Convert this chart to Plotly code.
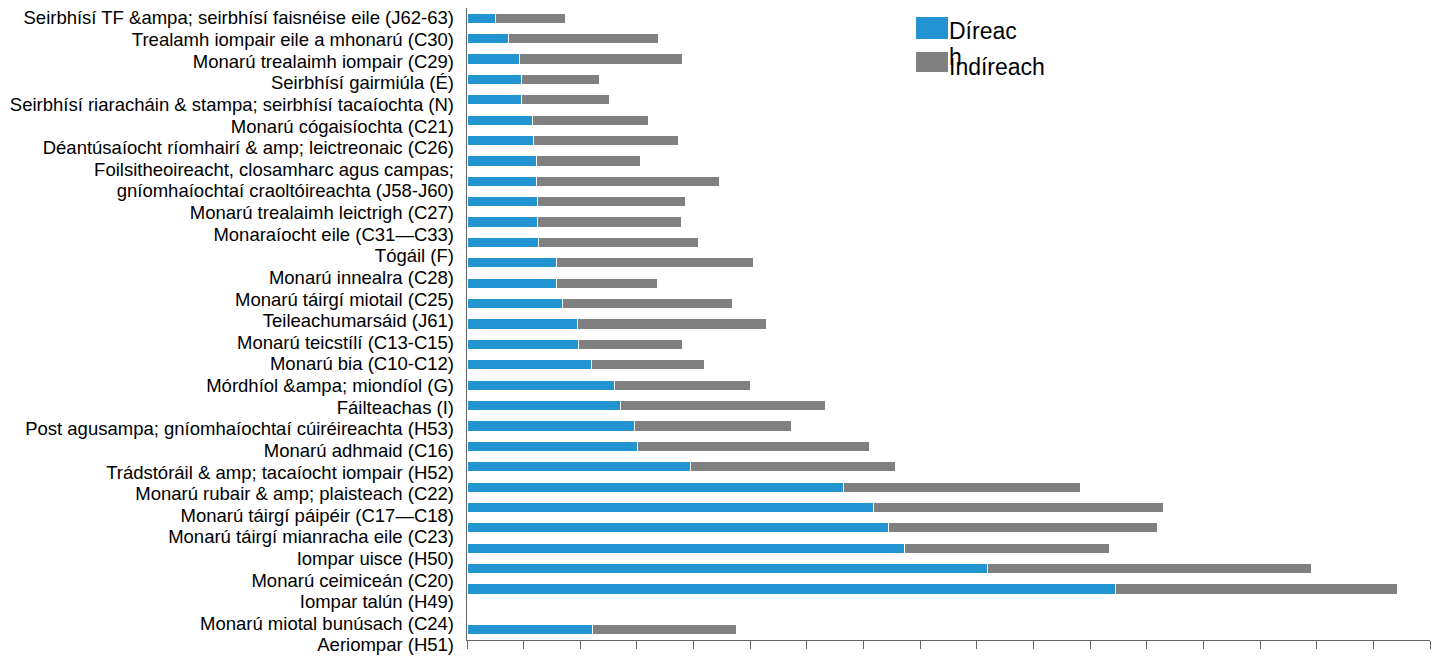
import plotly.graph_objects as go

labels = [
    "Seirbhísí TF &ampa; seirbhísí faisnéise eile (J62-63)",
    "Trealamh iompair eile a mhonarú (C30)",
    "Monarú trealaimh iompair (C29)",
    "Seirbhísí gairmiúla (É)",
    "Seirbhísí riaracháin & stampa; seirbhísí tacaíochta (N)",
    "Monarú cógaisíochta (C21)",
    "Déantúsaíocht ríomhairí & amp; leictreonaic (C26)",
    "Foilsitheoireacht, closamharc agus campas;<br>gníomhaíochtaí craoltóireachta (J58-J60)",
    "Monarú trealaimh leictrigh (C27)",
    "Monaraíocht eile (C31—C33)",
    "Tógáil (F)",
    "Monarú innealra (C28)",
    "Monarú táirgí miotail (C25)",
    "Teileachumarsáid (J61)",
    "Monarú teicstílí (C13-C15)",
    "Monarú bia (C10-C12)",
    "Mórdhíol &ampa; miondíol (G)",
    "Fáilteachas (I)",
    "Post agusampa; gníomhaíochtaí cúiréireachta (H53)",
    "Monarú adhmaid (C16)",
    "Trádstóráil & amp; tacaíocht iompair (H52)",
    "Monarú rubair & amp; plaisteach (C22)",
    "Monarú táirgí páipéir (C17—C18)",
    "Monarú táirgí mianracha eile (C23)",
    "Iompar uisce (H50)",
    "Monarú ceimiceán (C20)",
    "Iompar talún (H49)",
    "Monarú miotal bunúsach (C24)",
    "Aeriompar (H51)",
]

# bar rows as drawn (one more row than label lines, one row empty)
direct = [0.51, 0.73, 0.92, 0.97, 0.97, 1.15, 1.17, 1.22, 1.22, 1.24,
          1.24, 1.26, 1.58, 1.58, 1.68, 1.95, 1.97, 2.19, 2.60, 2.71,
          2.95, 3.01, 3.94, 6.64, 7.18, 7.44, 7.72, 9.18, 11.44, 0, 2.21]
indirect = [1.22, 2.65, 2.88, 1.37, 1.54, 2.05, 2.57, 1.85, 3.24, 2.61,
            2.54, 2.82, 3.47, 1.79, 3.01, 3.34, 1.84, 2.01, 2.40, 3.61,
            2.78, 4.10, 3.63, 4.19, 5.11, 4.75, 3.62, 5.73, 4.98, 0, 2.55]
rows = list(range(len(direct)))

blue = "#2394d2"
grey = "#808080"
axis_col = "#666666"

# one tick per text line, so the wrapped label keeps the tight spacing
tick_text = [part for lab in labels for part in lab.split("<br>")]
tick_pos = list(range(len(tick_text)))

fig = go.Figure()
fig.add_trace(go.Bar(y=rows, x=direct, orientation="h", name="Díreach", width=0.5,
                     marker=dict(color=blue, line=dict(color="white", width=1))))
fig.add_trace(go.Bar(y=rows, x=indirect, orientation="h", name="Indíreach", width=0.5,
                     marker=dict(color=grey, line=dict(color="white", width=1))))
# carries the label axis
fig.add_trace(go.Scatter(x=[None], y=[None], yaxis="y2", showlegend=False, hoverinfo="skip"))

fig.update_layout(
    width=1438, height=648,
    barmode="stack", showlegend=False,
    margin=dict(l=459, r=16, t=0, b=0),
    paper_bgcolor="white", plot_bgcolor="rgba(0,0,0,0)",
    font=dict(family="Liberation Sans, Arial, sans-serif", color="black", size=18),
    xaxis=dict(range=[0, 17], tick0=0, dtick=1, showticklabels=False,
               ticks="outside", ticklen=8, tickcolor=axis_col,
               showline=True, linecolor=axis_col, linewidth=1,
               showgrid=False, zeroline=False, automargin=False),
    yaxis=dict(domain=[16 / 648, 1], range=[30.5, -0.5], showticklabels=False,
               showline=True, linecolor=axis_col, linewidth=1, ticks="",
               showgrid=False, zeroline=False, automargin=False),
    yaxis2=dict(domain=[0, 1], anchor="free", position=0, range=[29.51, -0.4625],
                tickvals=tick_pos, ticktext=tick_text, ticks="", ticklabelstandoff=13,
                ticklabeloverflow="allow",
                tickfont=dict(size=18.5, color="black"),
                showline=False, showgrid=False, zeroline=False, automargin=False),
)

# legend drawn by hand
fig.add_shape(type="rect", xref="paper", yref="paper", x0=0.4663, x1=0.4995, y0=0.9522, y1=0.9861,
              fillcolor=blue, line=dict(width=0))
fig.add_shape(type="rect", xref="paper", yref="paper", x0=0.4663, x1=0.4995, y0=0.9012, y1=0.9321,
              fillcolor=grey, line=dict(width=0))
for txt, yy in [("Díreac", 0.9645), ("h", 0.9244), ("Indíreach", 0.909)]:
    fig.add_annotation(text=txt, xref="paper", yref="paper", x=0.4985, y=yy,
                       xanchor="left", yanchor="middle", showarrow=False,
                       font=dict(size=23, color="black"))

fig.write_html("out.html")
